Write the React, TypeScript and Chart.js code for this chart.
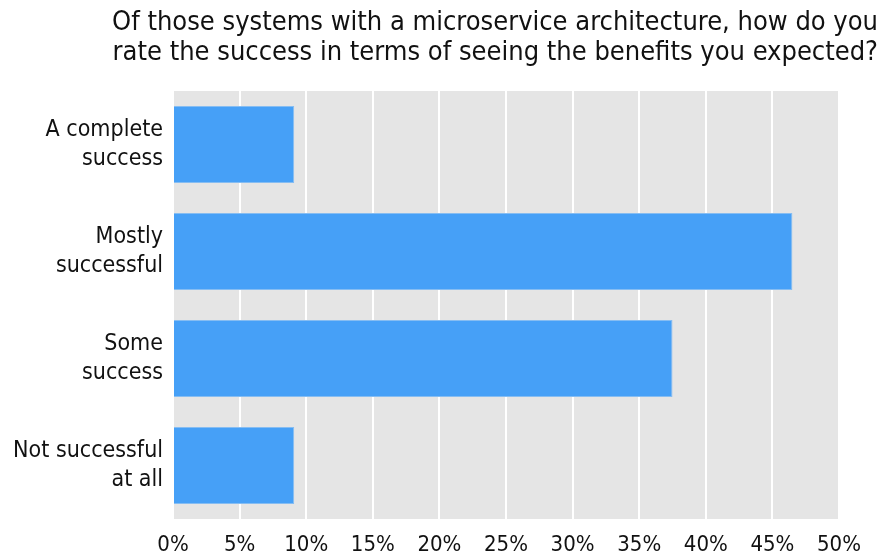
import React, { useEffect, useRef } from "react";
import { Chart, registerables } from "chart.js";

Chart.register(...registerables);

const categories: string[][] = [
  ["A complete", "success"],
  ["Mostly", "successful"],
  ["Some", "success"],
  ["Not successful", "at all"],
];
const values: number[] = [9.1, 46.5, 37.5, 9.1];
const titleLines: string[] = [
  "Of those systems with a microservice architecture, how do you",
  "rate the success in terms of seeing the benefits you expected?",
];

const FONT = "'Liberation Sans Narrow', 'DejaVu Sans Condensed', 'Roboto', sans-serif";

const bgPlugin = {
  id: "plotBg",
  beforeDraw(chart: any) {
    const { ctx, chartArea } = chart;
    ctx.save();
    ctx.fillStyle = "#e5e5e5";
    ctx.fillRect(chartArea.left, chartArea.top, chartArea.right - chartArea.left, chartArea.bottom - chartArea.top);
    ctx.restore();
  },
};

const titlePlugin = {
  id: "rightTitle",
  afterDraw(chart: any) {
    const { ctx } = chart;
    ctx.save();
    ctx.fillStyle = "#111111";
    ctx.font = `27px ${FONT}`;
    ctx.textAlign = "right";
    ctx.textBaseline = "middle";
    titleLines.forEach((line, i) => {
      ctx.fillText(line, 878, 23 + i * 30);
    });
    ctx.restore();
  },
};

export default function App() {
  const ref = useRef<HTMLCanvasElement>(null);
  useEffect(() => {
    document.body.style.margin = "0";
    const chart = new Chart(ref.current!, {
      type: "bar",
      data: {
        labels: categories,
        datasets: [
          {
            data: values,
            backgroundColor: "#46a0f7",
            borderColor: "#86bdf2",
            borderWidth: 1,
            categoryPercentage: 0.72,
            barPercentage: 1,
          },
        ],
      },
      options: {
        indexAxis: "y",
        animation: false,
        responsive: false,
        layout: { padding: { top: 91, right: 50, left: 0, bottom: 0 } },
        plugins: { legend: { display: false }, tooltip: { enabled: false }, title: { display: false } },
        scales: {
          x: {
            min: 0,
            max: 50,
            ticks: {
              stepSize: 5,
              callback: (v: any) => `${v}%`,
              color: "#111111",
              font: { family: FONT, size: 22 },
              padding: 13,
              maxRotation: 0,
            },
            grid: { color: "#ffffff", lineWidth: 2, drawTicks: false },
            border: { display: false },
            afterFit: (s: any) => {
              s.height = 37;
            },
          },
          y: {
            ticks: {
              color: "#111111",
              font: { family: FONT, size: 23, lineHeight: 1.25 },
              padding: 2,
              crossAlign: "near",
            },
            grid: { display: false },
            border: { display: false },
            afterFit: (s: any) => {
              s.width = 173;
            },
          },
        },
      },
      plugins: [bgPlugin, titlePlugin],
    });
    return () => chart.destroy();
  }, []);
  return <canvas ref={ref} width={889} height={556} style={{ display: "block" }} />;
}
